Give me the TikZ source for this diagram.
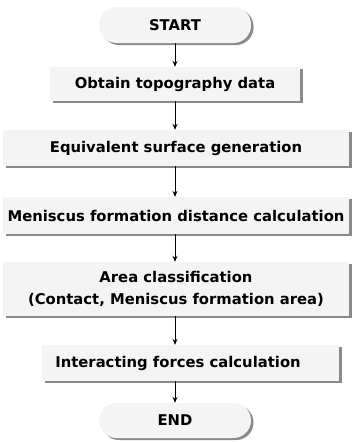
\documentclass[tikz,border=0pt]{standalone}
\usepackage{fontspec}
\setmainfont{DejaVu Sans}
\usetikzlibrary{shadows,arrows.meta}
\definecolor{boxfill}{HTML}{F4F4F4}
\definecolor{shadowgray}{HTML}{8A8A8A}
\begin{document}
\begin{tikzpicture}[x=1pt,y=-1pt,
  font=\fontsize{14.8}{22}\selectfont\bfseries,
  boxstyle/.style={rectangle, fill=boxfill, inner sep=0pt, align=center,
     drop shadow={shadow xshift=2.5pt, shadow yshift=-2pt, fill=shadowgray, opacity=1}},
  pill/.style={boxstyle, rounded corners=17.5pt},
  flow/.style={-{Stealth[length=6pt,width=5pt]}, line width=0.9pt}]
\useasboundingbox (0,0) rectangle (352,442);
\node[pill, minimum width=152pt, minimum height=36pt] (start) at (175,25) {START};
\node[boxstyle, minimum width=250pt, minimum height=34pt] (obtain) at (175,84) {Obtain topography data};
\node[boxstyle, minimum width=346pt, minimum height=36pt] (equiv) at (176,148) {Equivalent surface generation};
\node[boxstyle, minimum width=346pt, minimum height=37pt] (menis) at (176,215.5) {Meniscus formation distance calculation};
\node[boxstyle, minimum width=346pt, minimum height=54pt] (area) at (176,289) {Area classification\\(Contact, Meniscus formation area)};
\node[boxstyle, minimum width=297pt, minimum height=36pt] (inter) at (190.5,363) {\hspace*{-25pt}Interacting forces calculation};
\node[pill, minimum width=152pt, minimum height=35pt] (end) at (175,420.5) {END};
\coordinate (a1) at (175,0);
\draw[flow] (start.south) -- (obtain.north);
\draw[flow] (obtain.south -| a1) -- (equiv.north -| a1);
\draw[flow] (equiv.south -| a1) -- (menis.north -| a1);
\draw[flow] (menis.south -| a1) -- (area.north -| a1);
\draw[flow] (area.south -| a1) -- (inter.north -| a1);
\draw[flow] (inter.south -| a1) -- (end.north);
\end{tikzpicture}
\end{document}
